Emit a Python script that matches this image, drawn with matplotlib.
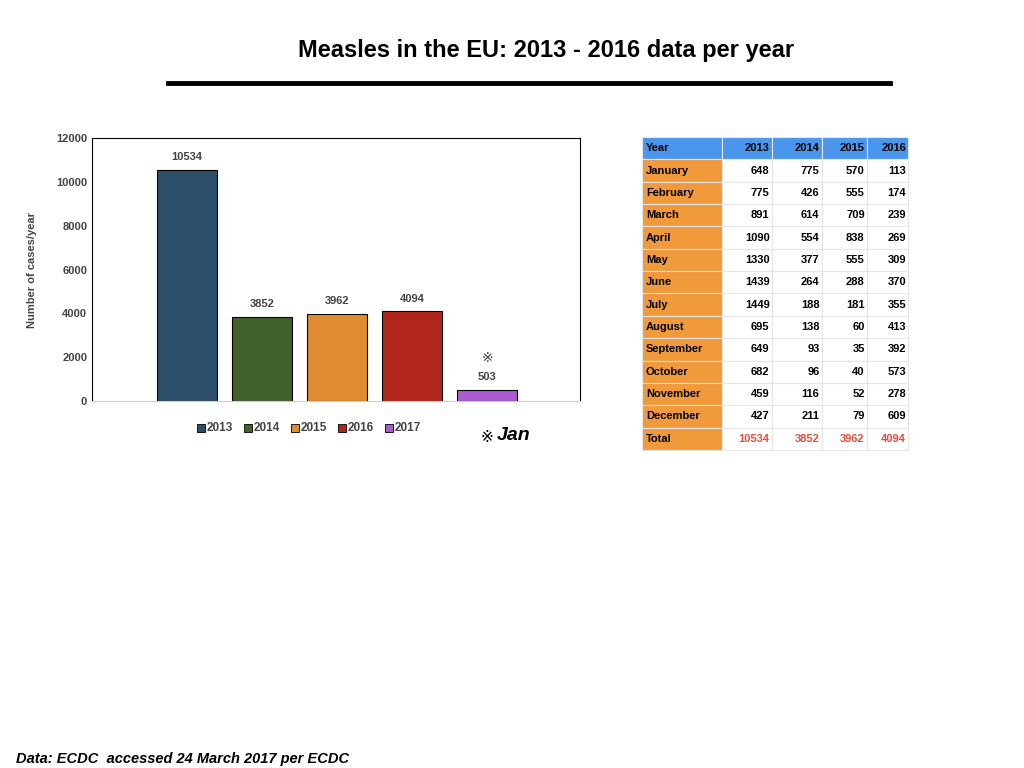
import matplotlib
matplotlib.use("Agg")
import matplotlib.pyplot as plt
from matplotlib.patches import Rectangle

years = ["2013", "2014", "2015", "2016", "2017"]
totals = [10534, 3852, 3962, 4094, 503]
colors = ["#2d4f6c", "#41612a", "#e08c32", "#b0261b", "#a95bd0"]

months = ["January", "February", "March", "April", "May", "June", "July",
          "August", "September", "October", "November", "December"]
v2013 = [648, 775, 891, 1090, 1330, 1439, 1449, 695, 649, 682, 459, 427]
v2014 = [775, 426, 614, 554, 377, 264, 188, 138, 93, 96, 116, 211]
v2015 = [570, 555, 709, 838, 555, 288, 181, 60, 35, 40, 52, 79]
v2016 = [113, 174, 239, 269, 309, 370, 355, 413, 392, 573, 278, 609]
table_totals = [10534, 3852, 3962, 4094]

W, H = 1024, 768
fig = plt.figure(figsize=(10.24, 7.68), dpi=100)
plt.rcParams['font.family'] = ['Liberation Sans', 'DejaVu Sans']

fig.text(546/W, 1-51/H, "Measles in the EU: 2013 - 2016 data per year", ha="center", va="center",
         fontsize=17, fontweight="bold")
fig.add_artist(plt.Line2D([168/W, 890/W], [1-83/H, 1-83/H], color="black", lw=3.5))
fig.text(16/W, 1-759/H, "Data: ECDC  accessed 24 March 2017 per ECDC", ha="left", va="center",
         fontsize=10.5, fontweight="bold", style="italic")

ax = fig.add_axes([92/W, 1-401/H, 488/W, 263/H])
x = list(range(1, 6))
bars = ax.bar(x, totals, width=0.8, color=colors, edgecolor="black", linewidth=0.8)
for xi, v in zip(x, totals):
    ax.text(xi, v + 350, str(v), ha="center", va="bottom", fontsize=8, fontweight="bold", color="#444444")
ax.text(5, 1650, "※", ha="center", va="bottom", fontsize=10, color="#444444", family="DejaVu Sans")
ax.set_xlim(-0.267, 6.24)
ax.set_ylim(0, 12000)
ax.set_yticks(range(0, 12001, 2000))
ax.set_xticks([])
ax.tick_params(axis="y", length=0, labelsize=8, labelcolor="#444444")
for t in ax.get_yticklabels():
    t.set_fontweight("bold")
for s in ["top", "right", "left"]:
    ax.spines[s].set_color("black")
    ax.spines[s].set_linewidth(0.8)
ax.spines["bottom"].set_color("#cccccc")
ax.set_ylabel("Number of cases/year", fontsize=8, fontweight="bold", color="#444444", labelpad=14)

# legend
lx = 197
for yr, c in zip(years, colors):
    fig.add_artist(Rectangle(((lx)/W, 1-432/H), 8/W, 8/H, facecolor=c, edgecolor="black", lw=0.6))
    fig.text((lx+10)/W, 1-428/H, yr, ha="left", va="center", fontsize=8.5, fontweight="bold", color="#444444")
    lx += 47
fig.text(480/W, 1-437/H, "※", ha="left", va="center", fontsize=11, family="DejaVu Sans")
fig.text(497/W, 1-436/H, "Jan", ha="left", va="center", fontsize=14, fontweight="bold", style="italic")

# table
tax = fig.add_axes([642/W, 1-450/H, 266/W, 313/H])
tax.axis("off")
header = ["Year", "2013", "2014", "2015", "2016"]
rows = [[m, str(a), str(b), str(c), str(d)] for m, a, b, c, d in zip(months, v2013, v2014, v2015, v2016)]
rows.append(["Total"] + [str(t) for t in table_totals])
tbl = tax.table(cellText=[header] + rows, bbox=[0, 0, 1, 1],
                colWidths=[80, 50, 50, 45, 41])
tbl.auto_set_font_size(False)
nrows = len(rows) + 1
for (r, c), cell in tbl.get_celld().items():
    cell.set_edgecolor("#e6e6e6")
    cell.set_linewidth(0.8)
    t = cell.get_text()
    t.set_fontsize(8)
    t.set_fontweight("bold")
    t.set_ha("left" if c == 0 else "right")
    cell.PAD = 0.05
    if r == 0:
        cell.set_facecolor("#4a96ec")
    elif c == 0:
        cell.set_facecolor("#f09a3c")
    else:
        cell.set_facecolor("white")
    if r == nrows - 1 and c > 0:
        t.set_color("#e0503c")

fig.savefig("out.png", dpi=100)
